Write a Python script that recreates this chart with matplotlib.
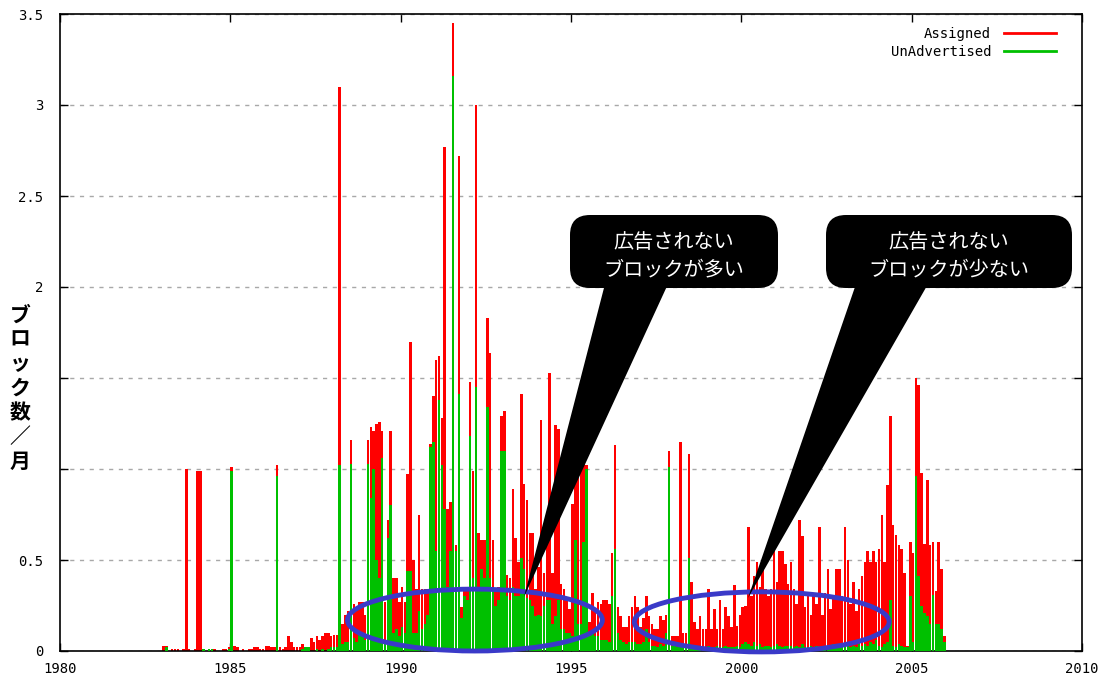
import numpy as np
import matplotlib
matplotlib.use("Agg")
import matplotlib.pyplot as plt
from matplotlib.patches import Ellipse, FancyBboxPatch, Polygon
from matplotlib.lines import Line2D

# ---------------- data (blocks per month) ----------------
years = list(range(1983, 2006))

assigned_1983 = [0.03, 0.03, 0.00, 0.01, 0.01, 0.01, 0.00, 0.01, 1.00, 0.01, 0.00, 0.01]
unadv_1983    = [0.00, 0.02, 0.00, 0.00, 0.00, 0.00, 0.00, 0.00, 0.00, 0.00, 0.00, 0.00]
assigned_1984 = [0.99, 0.99, 0.01, 0.00, 0.01, 0.01, 0.01, 0.00, 0.00, 0.01, 0.01, 0.02]
unadv_1984    = [0.00, 0.00, 0.01, 0.00, 0.01, 0.01, 0.00, 0.00, 0.00, 0.00, 0.00, 0.01]
assigned_1985 = [1.01, 0.03, 0.02, 0.00, 0.01, 0.00, 0.01, 0.01, 0.02, 0.02, 0.01, 0.01]
unadv_1985    = [0.99, 0.00, 0.00, 0.00, 0.00, 0.00, 0.00, 0.00, 0.00, 0.00, 0.00, 0.00]
assigned_1986 = [0.03, 0.03, 0.02, 0.02, 1.02, 0.02, 0.01, 0.02, 0.08, 0.05, 0.02, 0.02]
unadv_1986    = [0.00, 0.00, 0.00, 0.00, 0.96, 0.00, 0.00, 0.00, 0.00, 0.00, 0.00, 0.00]
assigned_1987 = [0.02, 0.04, 0.02, 0.02, 0.07, 0.05, 0.08, 0.06, 0.08, 0.10, 0.10, 0.08]
unadv_1987    = [0.00, 0.01, 0.02, 0.02, 0.00, 0.00, 0.01, 0.00, 0.01, 0.00, 0.01, 0.02]
assigned_1988 = [0.09, 0.09, 3.10, 0.15, 0.20, 0.22, 1.16, 0.26, 0.24, 0.27, 0.27, 0.20]
unadv_1988    = [0.02, 0.02, 1.02, 0.04, 0.05, 0.05, 1.03, 0.07, 0.05, 0.10, 0.10, 0.06]
assigned_1989 = [1.16, 1.23, 1.21, 1.25, 1.26, 1.21, 0.27, 0.72, 1.21, 0.40, 0.40, 0.27]
unadv_1989    = [1.03, 0.84, 1.00, 0.50, 0.40, 1.06, 0.05, 0.62, 0.80, 0.10, 0.12, 0.08]
assigned_1990 = [0.35, 0.27, 0.97, 1.70, 0.50, 0.34, 0.75, 0.34, 0.34, 0.34, 1.14, 1.40]
unadv_1990    = [0.13, 0.10, 0.44, 0.44, 0.10, 0.10, 0.22, 0.12, 0.15, 0.20, 1.12, 1.15]
assigned_1991 = [1.60, 1.62, 1.28, 2.77, 0.78, 0.82, 3.45, 0.58, 2.72, 0.24, 0.35, 0.35]
unadv_1991    = [0.55, 1.38, 1.02, 0.78, 0.35, 0.55, 3.16, 0.55, 1.41, 0.18, 0.30, 0.28]
assigned_1992 = [1.48, 0.99, 3.00, 0.65, 0.61, 0.61, 1.83, 1.64, 0.61, 0.33, 0.35, 1.29]
unadv_1992    = [1.18, 0.40, 1.45, 0.35, 0.45, 0.40, 1.34, 0.40, 0.35, 0.25, 0.28, 1.10]
assigned_1993 = [1.32, 0.42, 0.40, 0.89, 0.62, 0.49, 1.41, 0.92, 0.83, 0.65, 0.65, 0.34]
unadv_1993    = [1.10, 0.30, 0.28, 0.35, 0.30, 0.30, 0.51, 0.45, 0.29, 0.28, 0.25, 0.19]
assigned_1994 = [0.46, 1.27, 0.43, 0.68, 1.53, 0.43, 1.24, 1.22, 0.37, 0.34, 0.28, 0.23]
unadv_1994    = [0.20, 0.19, 0.25, 0.28, 0.28, 0.15, 0.19, 0.28, 0.12, 0.12, 0.10, 0.10]
assigned_1995 = [0.81, 0.95, 1.01, 1.05, 1.52, 1.02, 0.16, 0.32, 0.23, 0.27, 0.26, 0.28]
unadv_1995    = [0.08, 0.61, 0.15, 0.15, 0.60, 1.00, 0.08, 0.10, 0.08, 0.08, 0.06, 0.06]
assigned_1996 = [0.28, 0.26, 0.54, 1.13, 0.24, 0.19, 0.13, 0.13, 0.19, 0.24, 0.30, 0.24]
unadv_1996    = [0.06, 0.05, 0.30, 0.56, 0.10, 0.06, 0.05, 0.04, 0.05, 0.05, 0.05, 0.04]
assigned_1997 = [0.13, 0.18, 0.30, 0.19, 0.15, 0.12, 0.12, 0.19, 0.17, 0.20, 1.10, 0.08]
unadv_1997    = [0.04, 0.05, 0.12, 0.05, 0.03, 0.03, 0.02, 0.04, 0.03, 0.10, 1.01, 0.03]
assigned_1998 = [0.08, 0.08, 1.15, 0.10, 0.10, 1.08, 0.38, 0.16, 0.12, 0.19, 0.12, 0.12]
unadv_1998    = [0.03, 0.02, 0.03, 0.02, 0.02, 0.51, 0.03, 0.02, 0.02, 0.02, 0.02, 0.02]
assigned_1999 = [0.34, 0.12, 0.23, 0.12, 0.28, 0.12, 0.24, 0.19, 0.13, 0.36, 0.14, 0.20]
unadv_1999    = [0.03, 0.02, 0.02, 0.03, 0.02, 0.02, 0.03, 0.02, 0.02, 0.02, 0.03, 0.02]
assigned_2000 = [0.24, 0.25, 0.68, 0.30, 0.41, 0.49, 0.35, 0.50, 0.34, 0.30, 0.34, 0.57]
unadv_2000    = [0.04, 0.05, 0.04, 0.03, 0.05, 0.03, 0.04, 0.02, 0.03, 0.03, 0.02, 0.03]
assigned_2001 = [0.38, 0.55, 0.55, 0.48, 0.37, 0.49, 0.34, 0.26, 0.72, 0.63, 0.24, 0.32]
unadv_2001    = [0.04, 0.03, 0.02, 0.03, 0.03, 0.03, 0.02, 0.03, 0.02, 0.04, 0.02, 0.02]
assigned_2002 = [0.20, 0.32, 0.26, 0.68, 0.20, 0.32, 0.45, 0.23, 0.30, 0.45, 0.45, 0.30]
unadv_2002    = [0.03, 0.02, 0.03, 0.02, 0.02, 0.03, 0.02, 0.03, 0.04, 0.02, 0.03, 0.03]
assigned_2003 = [0.68, 0.50, 0.26, 0.38, 0.22, 0.34, 0.41, 0.49, 0.55, 0.49, 0.55, 0.49]
unadv_2003    = [0.02, 0.03, 0.02, 0.03, 0.02, 0.04, 0.03, 0.04, 0.03, 0.05, 0.04, 0.06]
assigned_2004 = [0.56, 0.75, 0.49, 0.91, 1.29, 0.69, 0.64, 0.58, 0.56, 0.43, 0.03, 0.60]
unadv_2004    = [0.03, 0.02, 0.04, 0.05, 0.28, 0.03, 0.02, 0.04, 0.03, 0.02, 0.02, 0.30]
assigned_2005 = [0.54, 1.50, 1.46, 0.98, 0.59, 0.94, 0.58, 0.60, 0.33, 0.60, 0.45, 0.08]
unadv_2005    = [0.05, 0.96, 0.41, 0.25, 0.21, 0.19, 0.15, 0.31, 0.15, 0.15, 0.12, 0.05]

assigned = np.concatenate([globals()[f"assigned_{y}"] for y in years])
unadvertised = np.concatenate([globals()[f"unadv_{y}"] for y in years])
months = np.array([y + (m + 0.5) / 12 for y in years for m in range(12)])

x_ticks = list(range(1980, 2011, 5))
y_ticks = [0, 0.5, 1, 1.5, 2, 2.5, 3, 3.5]
y_tick_labels = ["0", "0.5", "", "", "2", "2.5", "3", "3.5"]
series_labels = ["Assigned", "UnAdvertised"]
y_label = "ブロック数／月"
callout_texts = ["広告されない\nブロックが多い", "広告されない\nブロックが少ない"]

RED = "#ff0000"
GREEN = "#00c000"
BLUE = "#3a3ac8"
MONO = "DejaVu Sans Mono"
JP = ["Noto Sans CJK JP", "DejaVu Sans"]

# ---------------- figure ----------------
W, H = 1120, 680
fig = plt.figure(figsize=(W / 100, H / 100), dpi=100)
ax = fig.add_axes([60 / W, 29 / H, 1022 / W, 637 / H])

bar_w = 0.9 / 12
ax.bar(months, assigned, width=bar_w, color=RED, linewidth=0, zorder=2)
ax.bar(months, unadvertised, width=bar_w, color=GREEN, linewidth=0, zorder=3)

ax.set_xlim(1980, 2010)
ax.set_ylim(0, 3.5)
ax.set_xticks(x_ticks)
ax.set_xticklabels([str(t) for t in x_ticks])
ax.set_yticks(y_ticks)
ax.set_yticklabels(y_tick_labels)
ax.tick_params(direction="in", top=True, right=True, length=6, width=1,
               labelsize=10, colors="black")
ax.tick_params(axis="x", pad=8)
ax.tick_params(axis="y", pad=12)
for lbl in ax.get_xticklabels() + ax.get_yticklabels():
    lbl.set_fontfamily(MONO)
ax.yaxis.grid(True, linestyle=(0, (3, 4)), color="#a8a8a8", linewidth=1)
ax.set_axisbelow(True)
for sp in ax.spines.values():
    sp.set_linewidth(1.2)

# legend
handles = [Line2D([], [], color=RED, lw=2), Line2D([], [], color=GREEN, lw=2)]
ax.legend(handles, series_labels, loc="upper right",
          bbox_to_anchor=((1062 - 60) / 1022, (651 - 21) / 637),
          markerfirst=False, frameon=False, borderaxespad=0,
          prop={"family": MONO, "size": 10}, handlelength=3.8,
          handletextpad=0.9, labelspacing=0.3)

# ellipses highlighting regions
ax.add_patch(Ellipse((1992.18, 0.17), 7.48, 0.34, fill=False, ec=BLUE,
                     lw=3.5, zorder=6, clip_on=False))
ax.add_patch(Ellipse((2000.6, 0.16), 7.48, 0.33, fill=False, ec=BLUE,
                     lw=3.5, zorder=6, clip_on=False))

# y label (vertical, stacked characters)
fig.text(20 / W, 1 - 388 / H, "\n".join(y_label), ha="center", va="center",
         fontsize=15, family=JP, linespacing=1.2, fontweight="bold")

# callouts in pixel overlay
ov = fig.add_axes([0, 0, 1, 1], zorder=10)
ov.set_xlim(0, W)
ov.set_ylim(H, 0)
ov.axis("off")
ov.patch.set_alpha(0)

boxes = [(570, 215, 208, 73), (826, 215, 246, 73)]
tails = [[(605, 284), (668, 284), (524, 597)], [(856, 284), (928, 284), (748, 598)]]
for (bx, by, bw, bh), tail, txt in zip(boxes, tails, callout_texts):
    ov.add_patch(Polygon(tail, closed=True, fc="black", ec="none"))
    ov.add_patch(FancyBboxPatch((bx, by), bw, bh,
                                boxstyle="round,pad=0,rounding_size=20",
                                fc="black", ec="none"))
    ov.text(bx + bw / 2, by + bh / 2 + 5, txt, color="white", ha="center",
            va="center", fontsize=14.5, family=JP, linespacing=1.4)

fig.savefig("out.png", dpi=100, facecolor="white")
